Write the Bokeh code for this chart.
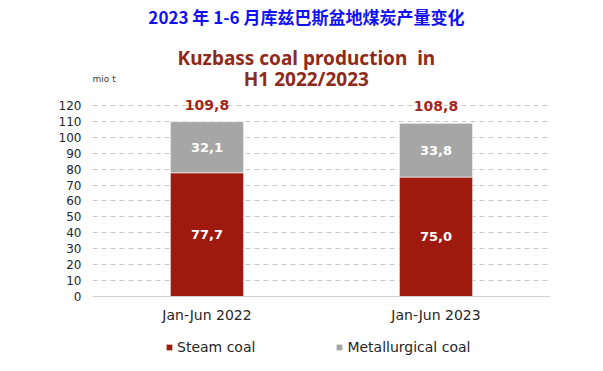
from bokeh.plotting import figure
from bokeh.models import (ColumnDataSource, Label, Legend, LegendItem, FactorRange,
                          Range1d, FixedTicker)
from bokeh.core.properties import value
from bokeh.embed import file_html
from bokeh.resources import INLINE

periods = ["Jan-Jun 2022", "Jan-Jun 2023"]
steam = [77.7, 75.0]
metallurgical = [32.1, 33.8]
totals = [109.8, 108.8]
series = ["Steam coal", "Metallurgical coal"]
y_ticks = [0, 10, 20, 30, 40, 50, 60, 70, 80, 90, 100, 110, 120]

RED = "#9E1A0E"
GREY = "#A6A6A6"
TITLE_RED = "#8E2A1B"

def fmt(v):
    return f"{v:.1f}".replace(".", ",")

src = ColumnDataSource(dict(
    period=periods,
    steam=steam,
    met=metallurgical,
    total=totals,
    steam_mid=[s / 2 for s in steam],
    met_mid=[s + m / 2 for s, m in zip(steam, metallurgical)],
    steam_lbl=[fmt(v) for v in steam],
    met_lbl=[fmt(v) for v in metallurgical],
    total_lbl=[fmt(v) for v in totals],
))

# frame spans the full canvas height; the value axis is 0-120 (ticks/grid only there),
# the extra room above/below holds titles and legend.
p = figure(width=587, height=355, x_range=FactorRange(*periods, range_padding=0),
           y_range=Range1d(-37.06, 185.9), output_backend="svg", toolbar_location=None,
           min_border_left=92, min_border_right=37, min_border_top=0, min_border_bottom=0)
p.title = None
p.outline_line_color = None
p.background_fill_color = "white"
p.border_fill_color = "white"

rs = p.vbar_stack(["steam", "met"], x="period", width=0.32, color=[RED, GREY],
                  line_color="white", line_width=0.6, source=src)

p.text(x="period", y="steam_mid", text="steam_lbl", source=src, text_color="white",
       text_font=value("DejaVu Sans"), text_font_style="bold", text_font_size="13px",
       text_align="center", text_baseline="middle")
p.text(x="period", y="met_mid", text="met_lbl", source=src, text_color="white",
       text_font=value("DejaVu Sans"), text_font_style="bold", text_font_size="13px",
       text_align="center", text_baseline="middle")
p.text(x="period", y="total", text="total_lbl", source=src, text_color="#A3281A",
       text_font=value("DejaVu Sans"), text_font_style="bold", text_font_size="14px",
       text_align="center", text_baseline="middle", y_offset=-17)

# axes
p.yaxis.ticker = FixedTicker(ticks=y_ticks)
p.yaxis.axis_line_color = None
p.yaxis.major_tick_line_color = None
p.yaxis.minor_tick_line_color = None
p.yaxis.major_label_text_font = "DejaVu Sans"
p.yaxis.major_label_text_font_size = "12px"
p.yaxis.major_label_text_color = "#262626"
p.yaxis.major_label_standoff = 5

p.xaxis.fixed_location = 0
p.xaxis.axis_line_color = "#D0D0D0"
p.xaxis.major_tick_line_color = None
p.xaxis.minor_tick_line_color = None
p.xaxis.major_label_text_font = "DejaVu Sans"
p.xaxis.major_label_text_font_size = "14px"
p.xaxis.major_label_text_color = "#262626"
p.xaxis.major_label_standoff = 5

p.xgrid.grid_line_color = None
p.ygrid.grid_line_color = "#C8C8C8"
p.ygrid.grid_line_dash = "5 4"
p.ygrid.grid_line_width = 1

# titles
p.add_layout(Label(x=0.934, y=175.9, text="2023 年 1-6 月库兹巴斯盆地煤炭产量变化",
                   text_font="Noto Sans CJK SC", text_font_style="bold", text_font_size="17px",
                   text_color="#1010F0", text_align="center", text_baseline="middle"))
p.add_layout(Label(x=0.934, y=150.1, text="Kuzbass coal production\u00a0\u00a0in",
                   text_font="Noto Sans", text_font_style="bold", text_font_size="19px",
                   text_color=TITLE_RED, text_align="center", text_baseline="middle"))
p.add_layout(Label(x=0.934, y=136.9, text="H1 2022/2023",
                   text_font="Noto Sans", text_font_style="bold", text_font_size="19px",
                   text_color=TITLE_RED, text_align="center", text_baseline="middle"))
p.add_layout(Label(x=0.0, y=136.9, text="mio t",
                   text_font="DejaVu Sans", text_font_size="9px",
                   text_color="#404040", text_align="left", text_baseline="middle"))

legend = Legend(items=[LegendItem(label=series[0], renderers=[rs[0]]),
                       LegendItem(label=series[1], renderers=[rs[1]])],
                orientation="horizontal", location=(73, 0),
                glyph_width=8, glyph_height=8, label_standoff=4, spacing=80,
                label_text_font="DejaVu Sans", label_text_font_size="14px",
                label_text_color="#262626", border_line_color=None,
                background_fill_alpha=0, padding=0, margin=0)
p.add_layout(legend, "center")

open("out.html", "w").write(file_html(p, INLINE))
